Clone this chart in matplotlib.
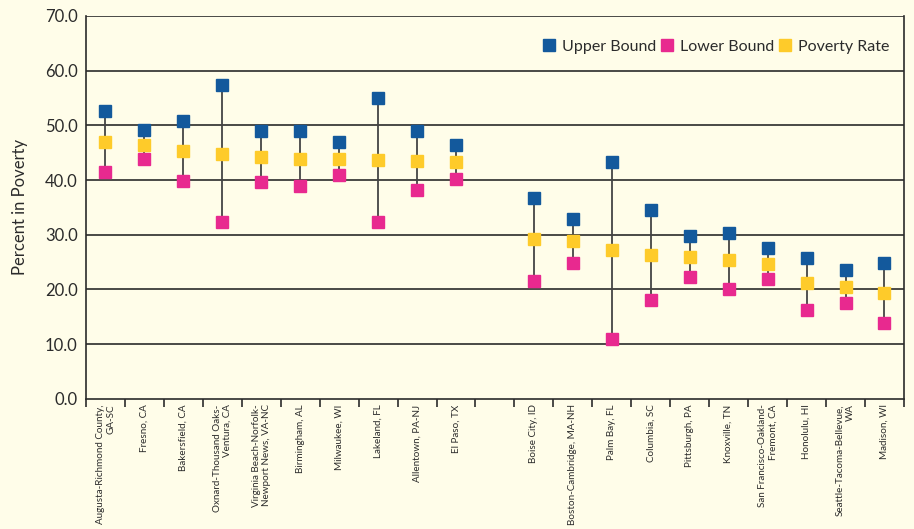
import matplotlib
matplotlib.use("Agg")
import matplotlib.pyplot as plt
import numpy as np

# metro areas, left group and right group (a blank slot sits between them)
cities = ["Augusta-Richmond County,\nGA-SC", "Fresno, CA", "Bakersfield, CA",
          "Oxnard-Thousand Oaks-\nVentura, CA", "Virginia Beach-Norfolk-\nNewport News, VA-NC",
          "Birmingham, AL", "Milwaukee, WI", "Lakeland, FL", "Allentown, PA-NJ", "El Paso, TX",
          "Boise City, ID", "Boston-Cambridge, MA-NH", "Palm Bay, FL", "Columbia, SC",
          "Pittsburgh, PA", "Knoxville, TN", "San Francisco-Oakland-\nFremont, CA",
          "Honolulu, HI", "Seattle-Tacoma-Bellevue,\nWA", "Madison, WI"]
upper = [52.6, 49.2, 50.8, 57.4, 49.0, 49.0, 47.0, 55.0, 49.0, 46.4,
         36.8, 32.8, 43.3, 34.5, 29.7, 30.3, 27.5, 25.8, 23.5, 24.9]
lower = [41.5, 43.9, 39.9, 32.4, 39.7, 38.9, 41.0, 32.4, 38.2, 40.2,
         21.6, 24.9, 11.0, 18.0, 22.3, 20.1, 21.9, 16.2, 17.6, 13.8]
rate = [47.0, 46.4, 45.3, 44.8, 44.2, 43.9, 43.9, 43.7, 43.5, 43.3,
        29.2, 28.9, 27.2, 26.3, 26.0, 25.3, 24.7, 21.1, 20.5, 19.4]

bg = "#fffde9"
blue = "#13599c"
pink = "#e8298f"
yellow = "#fecb2a"
ink = "#2b2b2b"

plt.rcParams["font.family"] = ["Lato", "DejaVu Sans"]

x = np.array([i if i < 10 else i + 1 for i in range(len(cities))])

fig = plt.figure(figsize=(9.14, 5.29), dpi=100, facecolor=bg)
ax = fig.add_axes([0.094, 0.246, 0.895, 0.724], facecolor=bg)

for yv in range(10, 80, 10):
    ax.axhline(yv, color=ink, lw=1.2, zorder=1)

ax.vlines(x, lower, upper, color="#444444", lw=1.3, zorder=2)
ax.plot(x, upper, "s", color=blue, ms=9, label="Upper Bound", zorder=3)
ax.plot(x, lower, "s", color=pink, ms=9, label="Lower Bound", zorder=3)
ax.plot(x, rate, "s", color=yellow, ms=9, label="Poverty Rate", zorder=4)

ax.set_xlim(-0.5, 20.5)
ax.set_ylim(0, 70)
ax.set_yticks(np.arange(0, 71, 10))
ax.set_yticklabels([f"{v:.1f}" for v in range(0, 71, 10)], fontsize=12, color=ink)
ax.tick_params(axis="y", length=0, pad=6)
ax.set_ylabel("Percent in Poverty", fontsize=12, color=ink, labelpad=12)

ax.set_xticks(x)
ax.set_xticklabels(cities, rotation=90, fontsize=7.1, color=ink, va="top", ha="center",
                   multialignment="right")
ax.tick_params(axis="x", which="major", length=0, pad=4)
ax.set_xticks(np.arange(-0.5, 21, 1), minor=True)
ax.tick_params(axis="x", which="minor", length=6, width=1.2, color=ink, direction="out")

for s in ["left", "right", "bottom"]:
    ax.spines[s].set_color(ink)
    ax.spines[s].set_linewidth(1.2)
ax.spines["top"].set_visible(False)

ax.legend(loc="upper right", ncol=3, frameon=False, fontsize=11.5, handlelength=0.8,
          handletextpad=0.4, columnspacing=0.3, borderaxespad=0.5,
          bbox_to_anchor=(1.0, 0.975), labelcolor=ink)

fig.savefig("out.png", dpi=100, facecolor=bg)
